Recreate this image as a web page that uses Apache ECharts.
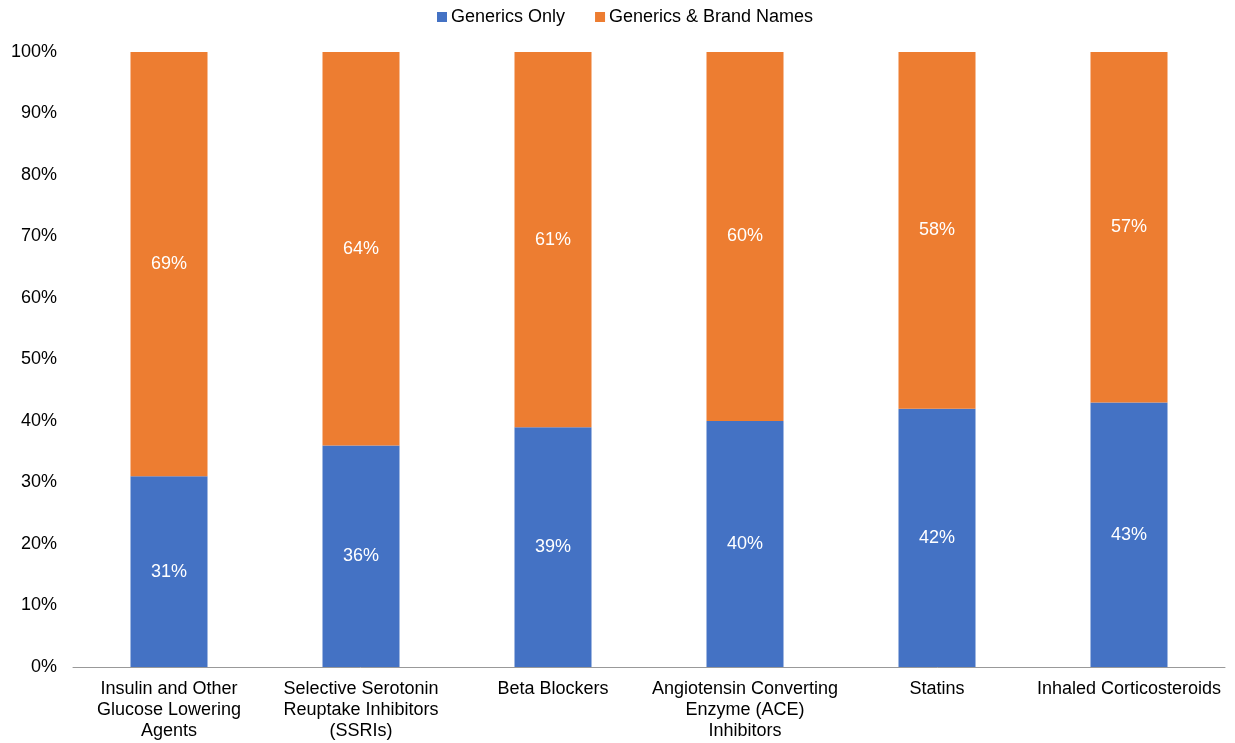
<!DOCTYPE html>
<html>
<head>
<meta charset="utf-8">
<script src="https://cdn.jsdelivr.net/npm/echarts@6/dist/echarts.min.js"></script>
<style>
  html, body { margin: 0; padding: 0; background: #fff; }
  #chart { width: 1235px; height: 743px; }
</style>
</head>
<body>
<div id="chart"></div>
<script>
// Drug classes along the x axis
const categories = [
  'Insulin and Other\nGlucose Lowering\nAgents',
  'Selective Serotonin\nReuptake Inhibitors\n(SSRIs)',
  'Beta Blockers',
  'Angiotensin Converting\nEnzyme (ACE)\nInhibitors',
  'Statins',
  'Inhaled Corticosteroids'
];
// Share of prescriptions (%)
const genericsOnly = [31, 36, 39, 40, 42, 43];
const genericsAndBrand = [69, 64, 61, 60, 58, 57];

const FONT = '"Liberation Sans", Arial, sans-serif';
const labelStyle = {
  show: true,
  position: 'inside',
  color: '#ffffff',
  fontFamily: FONT,
  fontSize: 18,
  formatter: p => p.value + '%'
};

const chart = echarts.init(document.getElementById('chart'));
chart.setOption({
  animation: false,
  legend: {
    top: 3,
    left: 432,
    itemWidth: 10,
    itemHeight: 10,
    itemGap: 30,
    icon: 'rect',
    textStyle: { fontFamily: FONT, fontSize: 18, color: '#000', padding: [0, 0, 0, -1] },
    data: ['Generics Only', 'Generics & Brand Names']
  },
  grid: { left: 73, right: 10, top: 52, bottom: 76, containLabel: false },
  xAxis: {
    type: 'category',
    data: categories,
    axisLine: { lineStyle: { color: '#999999', width: 1 } },
    axisTick: { show: false },
    axisLabel: {
      interval: 0,
      margin: 12,
      color: '#000',
      fontFamily: FONT,
      fontSize: 18,
      lineHeight: 21
    }
  },
  yAxis: {
    type: 'value',
    min: 0,
    max: 100,
    interval: 10,
    splitLine: { show: false },
    axisLine: { show: false },
    axisTick: { show: false },
    axisLabel: {
      margin: 16,
      color: '#000',
      fontFamily: FONT,
      fontSize: 18,
      formatter: v => v + '%'
    }
  },
  series: [
    {
      name: 'Generics Only',
      type: 'bar',
      stack: 'total',
      barWidth: 77,
      itemStyle: { color: '#4472C4' },
      label: labelStyle,
      data: genericsOnly
    },
    {
      name: 'Generics & Brand Names',
      type: 'bar',
      stack: 'total',
      barWidth: 77,
      itemStyle: { color: '#ED7D31' },
      label: labelStyle,
      data: genericsAndBrand
    }
  ]
});
</script>
</body>
</html>
